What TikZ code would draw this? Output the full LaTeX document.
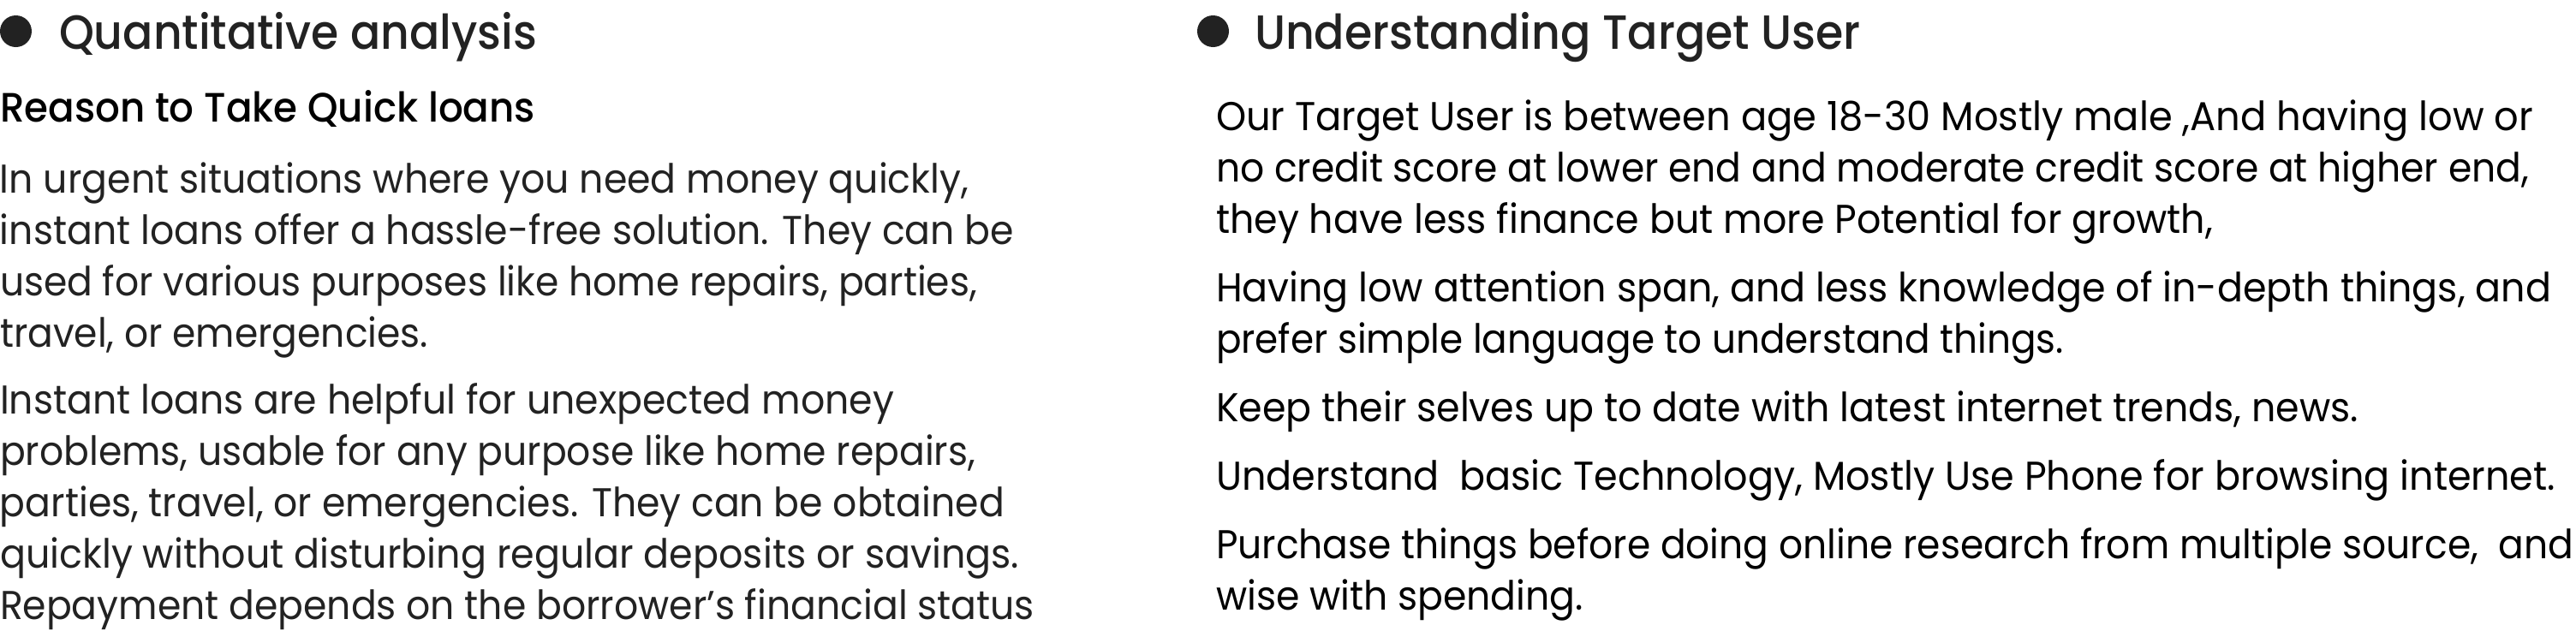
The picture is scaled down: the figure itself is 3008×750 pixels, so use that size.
\documentclass[tikz,border=0pt]{standalone}
\usepackage{fontspec}
\usepackage{graphicx}
\IfFontExistsTF{Poppins Medium}
  {\newfontfamily\headfont{Poppins Medium}[FakeStretch=0.927]
   \newfontfamily\subfont{Poppins Medium}[FakeStretch=0.94]}
  {\newfontfamily\headfont{Poppins}[FakeStretch=0.927,FakeBold=0.6]
   \newfontfamily\subfont{Poppins}[FakeStretch=0.94,FakeBold=0.6]}
\newfontfamily\bodyfont{Poppins}[FakeStretch=0.936]
\newcommand\fitto[2]{\resizebox{#1pt}{\height}{#2}}
\definecolor{ink}{HTML}{222222}
\definecolor{pureink}{HTML}{000000}
\tikzset{
  base/.style={anchor=base west, inner sep=0pt, outer sep=0pt},
  title/.style={base, font=\headfont\fontsize{56}{66}\selectfont, text=ink},
  subtitle/.style={base, font=\subfont\fontsize{48}{56}\selectfont, text=pureink},
  bodyl/.style={base, font=\bodyfont\fontsize{47}{56}\selectfont, text=ink},
  bodyr/.style={base, font=\bodyfont\fontsize{47}{56}\selectfont, text=pureink},
  dot/.style={circle, fill=ink, draw=none, minimum size=37pt, inner sep=0pt}
}
\begin{document}
\begin{tikzpicture}[x=1pt,y=-1pt]
\useasboundingbox (0,0) rectangle (3008,750);
% left column
\node[dot] (bl) at (18.5,36.5) {};
\node[title] (tl) at (69,57) {\fitto{558}{Quantitative analysis}};
\node[subtitle] (sl) at (0,142) {\fitto{625}{Reason to Take Quick loans}};
\node[bodyl] (a1) at (0,225) {\fitto{1131}{In urgent situations where you need money quickly,}};
\node[bodyl] (a2) at (0,285) {\fitto{1184}{instant loans offer a hassle-free solution. They can be}};
\node[bodyl] (a3) at (0,345) {\fitto{1141}{used for various purposes like home repairs, parties,}};
\node[bodyl] (a4) at (0,405) {travel, or emergencies.};
\node[bodyl] (b1) at (0,483) {\fitto{1044}{Instant loans are helpful for unexpected money}};
\node[bodyl] (b2) at (0,543) {\fitto{1139}{problems, usable for any purpose like home repairs,}};
\node[bodyl] (b3) at (0,603) {\fitto{1173}{parties, travel, or emergencies. They can be obtained}};
\node[bodyl] (b4) at (0,663) {\fitto{1190}{quickly without disturbing regular deposits or savings.}};
\node[bodyl] (b5) at (0,723) {\fitto{1208}{Repayment depends on the borrower’s financial status}};
% right column
\node[dot] (br) at (1416.5,36.5) {};
\node[title] (tr) at (1465,57) {\fitto{708}{Understanding Target User}};
\node[bodyr] (c1) at (1420,152) {\fitto{1538}{Our Target User is between age 18-30 Mostly male ,And having low or}};
\node[bodyr] (c2) at (1420,212) {\fitto{1533}{no credit score at lower end and moderate credit score at higher end,}};
\node[bodyr] (c3) at (1420,272) {\fitto{1164}{they have less finance but more Potential for growth,}};
\node[bodyr] (d1) at (1420,352) {\fitto{1559}{Having low attention span, and less knowledge of in-depth things, and}};
\node[bodyr] (d2) at (1420,412) {\fitto{990}{prefer simple language to understand things.}};
\node[bodyr] (e1) at (1420,492) {\fitto{1334}{Keep their selves up to date with latest internet trends, news.}};
\node[bodyr] (f1) at (1420,572) {\fitto{1564}{Understand\ \ basic Technology, Mostly Use Phone for browsing internet.}};
\node[bodyr] (g1) at (1420,652) {\fitto{1585}{Purchase things before doing online research from multiple source,\ \ and}};
\node[bodyr] (g2) at (1420,712) {\fitto{429}{wise with spending.}};
\end{tikzpicture}
\end{document}
